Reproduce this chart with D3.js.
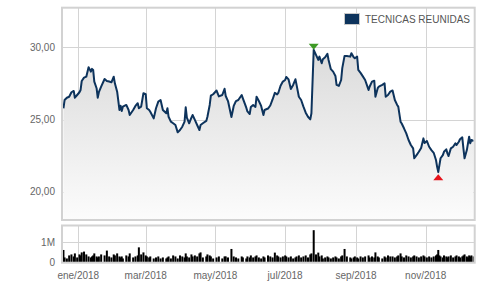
<!DOCTYPE html>
<html><head><meta charset="utf-8">
<script src="https://cdn.jsdelivr.net/npm/d3@7"></script>
<style>
html,body{margin:0;padding:0;background:#fff;}
svg{display:block;font-family:"Liberation Sans",Arial,sans-serif;}
</style></head>
<body>
<svg id="c" width="503" height="289"></svg>
<script>
const seriesName = "TECNICAS REUNIDAS";
const dates = ["2017-12-19","2017-12-20","2017-12-22","2017-12-24","2017-12-26","2017-12-28","2017-12-29","2017-12-31",
"2018-01-02","2018-01-03","2018-01-04","2018-01-06","2018-01-08","2018-01-10","2018-01-12","2018-01-13","2018-01-14","2018-01-15","2018-01-17","2018-01-18","2018-01-19","2018-01-21","2018-01-24","2018-01-26","2018-01-28","2018-01-30",
"2018-02-01","2018-02-02","2018-02-04","2018-02-06","2018-02-07","2018-02-08","2018-02-09","2018-02-12","2018-02-14","2018-02-15","2018-02-18","2018-02-20","2018-02-22","2018-02-23","2018-02-25","2018-02-27",
"2018-03-01","2018-03-02","2018-03-04","2018-03-05","2018-03-08","2018-03-10","2018-03-12","2018-03-14","2018-03-16","2018-03-19","2018-03-20","2018-03-21","2018-03-23","2018-03-25","2018-03-27","2018-03-29","2018-03-31",
"2018-04-02","2018-04-04","2018-04-05","2018-04-06","2018-04-08","2018-04-10","2018-04-11","2018-04-13","2018-04-15","2018-04-17","2018-04-18","2018-04-20","2018-04-23","2018-04-24","2018-04-26","2018-04-27","2018-04-29",
"2018-05-02","2018-05-04","2018-05-07","2018-05-09","2018-05-10","2018-05-12","2018-05-15","2018-05-17","2018-05-19","2018-05-21","2018-05-24","2018-05-25","2018-05-28","2018-05-29","2018-05-31",
"2018-06-01","2018-06-03","2018-06-05","2018-06-06","2018-06-08","2018-06-10","2018-06-12","2018-06-13","2018-06-16","2018-06-18","2018-06-20","2018-06-22","2018-06-24","2018-06-25","2018-06-27","2018-06-29",
"2018-07-01","2018-07-02","2018-07-04","2018-07-06","2018-07-08","2018-07-10","2018-07-11","2018-07-13","2018-07-15","2018-07-17","2018-07-19","2018-07-21","2018-07-23","2018-07-24","2018-07-26","2018-07-28","2018-07-30","2018-07-31",
"2018-08-02","2018-08-03","2018-08-05","2018-08-07","2018-08-08","2018-08-10","2018-08-12","2018-08-14","2018-08-15","2018-08-17","2018-08-19","2018-08-20","2018-08-22","2018-08-24","2018-08-27","2018-08-28","2018-08-30","2018-08-31",
"2018-09-02","2018-09-03","2018-09-05","2018-09-07","2018-09-09","2018-09-12","2018-09-13","2018-09-15","2018-09-17","2018-09-18","2018-09-20","2018-09-21","2018-09-24","2018-09-26","2018-09-27","2018-09-29",
"2018-10-01","2018-10-03","2018-10-05","2018-10-07","2018-10-08","2018-10-10","2018-10-11","2018-10-13","2018-10-15","2018-10-17","2018-10-19","2018-10-21","2018-10-22","2018-10-24","2018-10-26","2018-10-28","2018-10-30","2018-10-31",
"2018-11-02","2018-11-04","2018-11-06","2018-11-08","2018-11-10","2018-11-11","2018-11-12","2018-11-13","2018-11-14","2018-11-16","2018-11-17","2018-11-19","2018-11-20","2018-11-21","2018-11-23","2018-11-25","2018-11-27","2018-11-28","2018-11-30",
"2018-12-01","2018-12-03","2018-12-04","2018-12-05","2018-12-07","2018-12-08","2018-12-09","2018-12-10","2018-12-11","2018-12-13"];
const prices = [25.78,26.35,26.51,26.58,26.89,26.98,26.51,26.70,
26.89,27.05,27.67,27.90,27.97,28.63,28.32,28.51,28.44,27.63,27.17,26.51,26.89,27.28,27.81,27.67,27.63,27.58,
27.97,27.51,26.93,25.66,25.96,25.59,25.89,26.01,25.66,25.31,25.66,25.94,26.13,25.78,25.89,26.82,
26.75,25.78,25.66,25.54,25.08,25.78,26.24,26.35,25.66,25.43,25.78,25.19,24.85,24.74,24.62,24.11,24.27,
24.50,24.85,25.85,25.13,24.74,25.13,25.31,24.97,24.62,24.27,24.62,24.74,24.90,25.19,26.01,26.65,26.75,
27.01,26.60,26.70,27.13,26.63,26.28,25.17,25.94,26.28,26.35,26.70,26.47,25.82,25.56,25.38,
25.87,26.01,25.87,26.58,26.28,25.94,25.31,25.66,25.76,25.97,26.39,26.85,26.74,26.84,27.34,27.63,
27.74,27.95,27.78,27.12,27.40,27.79,27.40,26.58,26.35,25.89,25.47,25.19,25.01,25.43,29.83,29.48,29.13,29.36,
28.90,29.18,29.32,29.55,29.13,28.49,28.32,28.02,27.40,27.33,27.74,28.56,29.41,29.41,29.36,29.60,29.32,29.25,
29.36,28.44,28.23,27.99,27.74,27.05,27.29,27.63,27.69,26.58,27.17,27.28,27.40,27.51,26.58,26.70,
26.93,27.01,26.35,26.01,25.89,24.85,24.72,24.39,24.04,23.58,23.23,23.00,22.31,22.53,22.76,23.02,23.69,23.37,
23.51,23.11,22.88,22.69,22.19,21.72,21.35,21.84,22.31,22.53,22.76,22.93,22.65,22.47,23.00,23.11,23.35,23.23,23.46,
23.63,23.76,23.00,22.31,22.88,23.35,23.81,23.35,23.58,23.51];
const volumes = [0.62,0.25,0.20,0.35,0.40,0.30,0.45,0.25,0.40,0.35,
0.50,0.54,0.40,0.30,0.25,0.30,0.35,0.45,0.30,0.25,
0.30,0.40,0.35,0.59,0.30,0.25,0.40,0.35,0.45,0.30,
0.25,0.30,0.20,0.35,0.30,0.45,0.25,0.30,0.35,0.75,
0.40,0.50,0.35,0.30,0.25,0.30,0.20,0.25,0.30,0.20,
0.25,0.20,0.25,0.30,0.20,0.35,0.30,0.20,0.35,0.30,
0.25,0.45,0.30,0.25,0.40,0.30,0.35,0.30,0.45,0.50,
0.25,0.30,0.40,0.35,0.30,0.20,0.25,0.30,0.20,0.30,
0.30,0.25,0.67,0.30,0.25,0.20,0.30,0.25,0.20,0.30,
0.25,0.35,0.25,0.30,0.35,0.25,0.20,0.30,0.25,0.35,
0.30,0.25,0.49,0.35,0.30,0.25,0.30,0.35,0.30,0.25,
0.30,0.20,0.25,0.30,0.35,0.25,0.30,0.35,0.25,0.40,
0.45,1.60,0.40,0.49,0.30,0.35,0.20,0.25,0.30,0.25,
0.20,0.25,0.30,0.25,0.20,0.30,0.35,0.67,0.30,0.25,
0.20,0.25,0.30,0.25,0.20,0.30,0.25,0.30,0.35,0.25,
0.30,0.25,0.50,0.30,0.25,0.20,0.30,0.25,0.35,0.30,
0.30,0.25,0.30,0.35,0.45,0.30,0.25,0.35,0.30,0.25,
0.30,0.35,0.30,0.25,0.30,0.35,0.30,0.25,0.30,0.25,
0.30,0.35,0.40,0.62,0.35,0.30,0.25,0.35,0.30,0.25,
0.30,0.35,0.25,0.30,0.35,0.30,0.25,0.30,0.35,0.40,
0.30,0.25,0.35,0.30,0.35,0.30];
const priceTicks = [20, 25, 30];
const volumeTicks = [0, 1];
const monthNames = ["ene","feb","mar","abr","may","jun","jul","ago","sep","oct","nov","dic"];

const parse = d3.utcParse("%Y-%m-%d");
const data = dates.map((d, i) => ({date: parse(d), price: prices[i], vol: volumes[i]}));

const svg = d3.select("#c");
const L = 62, R = 474.7, T = 7.7, B = 220, VT = 225.5, VB = 262.7;

const x = d3.scaleUtc().domain([parse("2018-01-01"), parse("2018-11-01")]).range([78.3, 425.7]);
const y = d3.scaleLinear().domain([20, 30]).range([191.6, 47.4]);
const yv = d3.scaleLinear().domain([0, 1]).range([262.5, 242.3]);

const defs = svg.append("defs");
const grad = defs.append("linearGradient").attr("id", "ag").attr("gradientUnits", "userSpaceOnUse")
  .attr("x1", 0).attr("y1", 45).attr("x2", 0).attr("y2", B);
grad.append("stop").attr("offset", 0).attr("stop-color", "#dadada");
grad.append("stop").attr("offset", 1).attr("stop-color", "#fcfcfc");
defs.append("clipPath").attr("id", "cp").append("rect").attr("x", L + 1).attr("y", T + 1).attr("width", R - L - 2).attr("height", B - T - 2);
defs.append("clipPath").attr("id", "cpv").append("rect").attr("x", L + 1).attr("y", VT + 1).attr("width", R - L - 2).attr("height", VB - VT - 1);

const monthTicks = x.ticks(d3.utcMonth.every(2)).filter(d => x(d) > L && x(d) < R);

// main grid
const g = svg.append("g");
g.selectAll(".vg").data(monthTicks).join("line")
  .attr("x1", d => Math.round(x(d)) + 0.5).attr("x2", d => Math.round(x(d)) + 0.5)
  .attr("y1", T).attr("y2", B).attr("stroke", "#d4d4d4").attr("stroke-width", 1);
g.selectAll(".hg").data(priceTicks).join("line")
  .attr("x1", L).attr("x2", R).attr("y1", d => Math.round(y(d)) + 0.5).attr("y2", d => Math.round(y(d)) + 0.5)
  .attr("stroke", "#d4d4d4").attr("stroke-width", 1);

// area + line
const area = d3.area().x(d => x(d.date)).y0(B).y1(d => y(d.price));
const line = d3.line().x(d => x(d.date)).y(d => y(d.price));
const pg = svg.append("g").attr("clip-path", "url(#cp)");
pg.append("path").datum(data).attr("d", area).attr("fill", "url(#ag)");
pg.append("path").datum(data).attr("d", line).attr("fill", "none")
  .attr("stroke", "#0d335c").attr("stroke-width", 2).attr("stroke-linejoin", "round");

// frames
svg.append("rect").attr("x", L).attr("y", T).attr("width", R - L).attr("height", B - T)
  .attr("fill", "none").attr("stroke", "#d2d2d2").attr("stroke-width", 2);

// max/min markers
const maxD = data.reduce((a, b) => b.price > a.price ? b : a);
const minD = data.reduce((a, b) => b.price < a.price ? b : a);
const mx = x(maxD.date), my = y(maxD.price);
svg.append("path").attr("d", `M${mx - 5},${my - 6}L${mx + 5},${my - 6}L${mx},${my}Z`).attr("fill", "#3d9a25");
const nx = x(minD.date), ny = y(minD.price) + 2;
svg.append("path").attr("d", `M${nx - 5},${ny + 6}L${nx + 5},${ny + 6}L${nx},${ny}Z`).attr("fill", "#e5131b");

// y labels
svg.selectAll(".yl").data(priceTicks).join("text")
  .attr("x", 55).attr("y", d => y(d)).attr("dy", "0.35em").attr("text-anchor", "end")
  .attr("font-size", 10).attr("fill", "#666")
  .text(d => d3.format(".2f")(d).replace(".", ","));

// volume panel
const vg = svg.append("g");
vg.selectAll(".vvg").data(monthTicks).join("line")
  .attr("x1", d => Math.round(x(d)) + 0.5).attr("x2", d => Math.round(x(d)) + 0.5)
  .attr("y1", VT).attr("y2", VB).attr("stroke", "#d4d4d4");
vg.selectAll(".vhg").data(volumeTicks.filter(v => v > 0)).join("line")
  .attr("x1", L).attr("x2", R).attr("y1", d => Math.round(yv(d)) + 0.5).attr("y2", d => Math.round(yv(d)) + 0.5)
  .attr("stroke", "#d4d4d4");
const bars = svg.append("g").attr("clip-path", "url(#cpv)");
bars.selectAll("rect").data(data).join("rect")
  .attr("x", d => x(d.date) - 1).attr("width", 2)
  .attr("y", d => yv(d.vol)).attr("height", d => yv(0) - yv(d.vol))
  .attr("fill", "#000");
svg.append("rect").attr("x", L).attr("y", VT).attr("width", R - L).attr("height", VB - VT)
  .attr("fill", "none").attr("stroke", "#d2d2d2").attr("stroke-width", 2);
svg.selectAll(".vl").data(volumeTicks).join("text")
  .attr("x", 55).attr("y", d => yv(d)).attr("dy", "0.35em").attr("text-anchor", "end")
  .attr("font-size", 10).attr("fill", "#666")
  .text(d => d === 0 ? "0" : d + "M");

// x labels
svg.selectAll(".xl").data(monthTicks).join("text")
  .attr("x", d => x(d)).attr("y", 278.5).attr("text-anchor", "middle")
  .attr("font-size", 10).attr("fill", "#666")
  .text(d => monthNames[d.getUTCMonth()] + "/" + d.getUTCFullYear());

// legend
const lg = svg.append("g");
lg.append("rect").attr("x", 344.5).attr("y", 13.5).attr("width", 15).attr("height", 11)
  .attr("fill", "#0d335c").attr("stroke", "#c8c8c8").attr("stroke-width", 1);
lg.append("text").attr("x", 365).attr("y", 22.5).attr("font-size", 10).attr("fill", "#555").text(seriesName);
</script>
</body></html>
